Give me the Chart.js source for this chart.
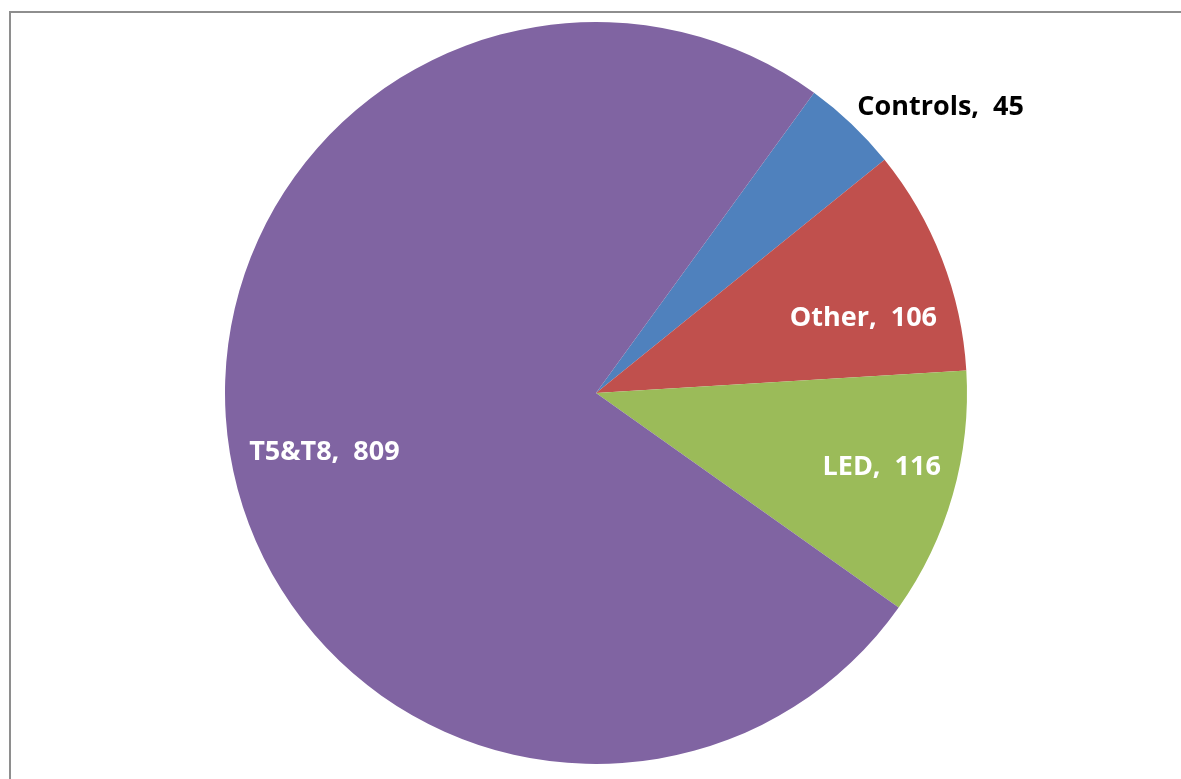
<!DOCTYPE html>
<html>
<head>
<meta charset="utf-8">
<script src="https://cdn.jsdelivr.net/npm/chart.js@4.4.0/dist/chart.umd.min.js"></script>
<style>
  html, body { margin: 0; padding: 0; background: #fff; }
  #wrap { position: relative; width: 1181px; height: 779px; }
  #frame { position: absolute; left: 9px; top: 11px; width: 1200px; height: 800px;
           border-left: 2px solid #8e8e8e; border-top: 2px solid #8e8e8e; }
  canvas { position: absolute; left: 0; top: 0; }
</style>
</head>
<body>
<div id="wrap">
  <div id="frame"></div>
  <canvas id="chart" width="1181" height="779"></canvas>
</div>
<script>
const categories = ['Controls', 'Other', 'LED', 'T5&T8'];
const values = [45, 106, 116, 809];
const sliceColors = ['#4F81BD', '#C0504D', '#9BBB59', '#8064A2'];

// label placement: fraction of radius along the slice middle, plus a small nudge
const labelStyle = [
    { frac: 1.05, align: 'left', color: '#000', dx: -7, dy: -3 },
    { frac: 0.75, align: 'center', color: '#fff', dx: 8, dy: 26 },
    { frac: 0.77, align: 'center', color: '#fff', dx: 11, dy: -4 },
    { frac: 0.75, align: 'center', color: '#fff', dx: 3, dy: 14 }
];

const sliceLabels = {
    id: 'sliceLabels',
    afterDatasetsDraw(chart) {
        const ctx = chart.ctx;
        const meta = chart.getDatasetMeta(0);
        ctx.save();
        ctx.font = 'bold 27px "Open Sans", Lato, sans-serif';
        ctx.textBaseline = 'middle';
        meta.data.forEach((arc, i) => {
            const p = arc.getProps(['x', 'y', 'startAngle', 'endAngle', 'outerRadius'], true);
            const mid = (p.startAngle + p.endAngle) / 2;
            const s = labelStyle[i];
            const r = p.outerRadius * s.frac;
            const x = p.x + Math.cos(mid) * r + s.dx;
            const y = p.y + Math.sin(mid) * r + s.dy;
            ctx.fillStyle = s.color;
            ctx.textAlign = s.align;
            ctx.fillText(categories[i] + ',  ' + values[i], x, y);
        });
        ctx.restore();
    }
};

new Chart(document.getElementById('chart'), {
    type: 'pie',
    data: {
        labels: categories,
        datasets: [{
            data: values,
            backgroundColor: sliceColors,
            borderWidth: 0
        }]
    },
    options: {
        responsive: false,
        animation: false,
        rotation: 36,
        layout: { padding: { left: 225, right: 214, top: 22, bottom: 15 } },
        plugins: {
            legend: { display: false },
            tooltip: { enabled: false }
        }
    },
    plugins: [sliceLabels]
});
</script>
</body>
</html>
